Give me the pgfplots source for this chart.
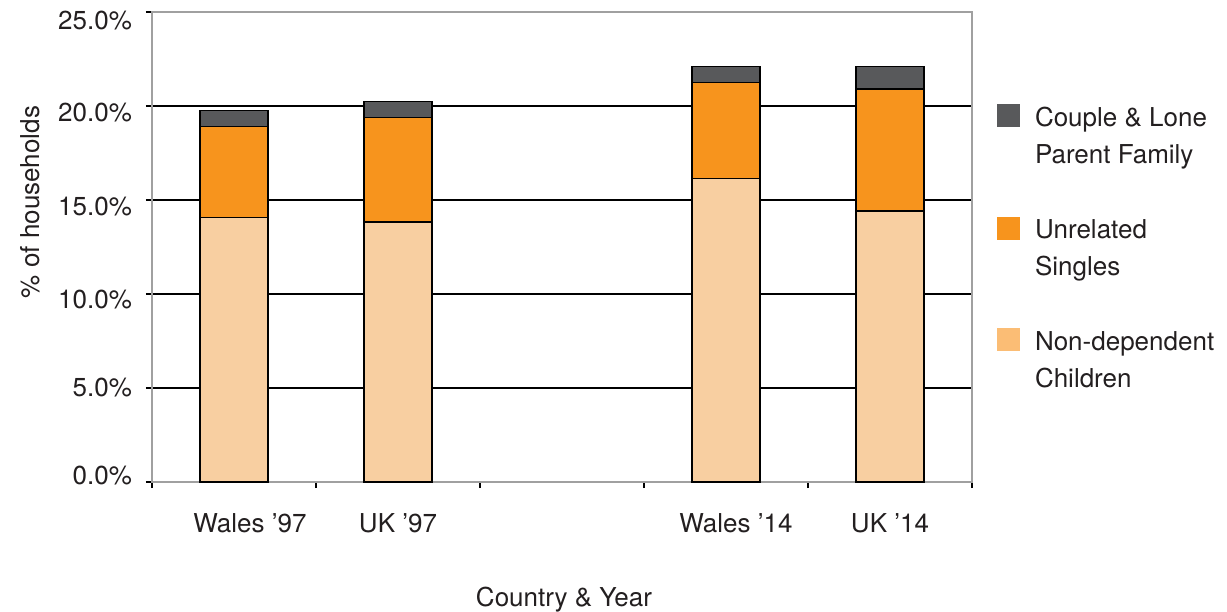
\documentclass[border=0pt]{standalone}
\usepackage{fontspec}
\setmainfont{TeX Gyre Heros}
\usepackage{pgfplots}
\usepackage{pgfplotstable}
\pgfplotsset{compat=1.18}
\definecolor{cdark}{HTML}{58595B}
\definecolor{corange}{HTML}{F7941D}
\definecolor{clight}{HTML}{F8CFA1}
\definecolor{clightleg}{HTML}{FBBD75}
\definecolor{axgray}{HTML}{A0A0A0}
\definecolor{txt}{HTML}{231F20}
\pgfplotstableread{
x nd us cl
0 14.06 4.86 0.85
1 13.83 5.57 0.83
3 16.15 5.11 0.83
4 14.41 6.49 1.19
}\datatable
\newcommand{\rl}[2]{\raisebox{#1}[\height][\depth]{#2}}
\begin{document}
\fontsize{13}{18.5}\selectfont
\begin{tikzpicture}
\useasboundingbox (-76pt,-64.5pt) rectangle (537.5pt,241pt);
\begin{axis}[
  scale only axis, width=410pt, height=235pt,
  xmin=-0.5, xmax=4.5, ymin=0, ymax=25,
  ybar stacked, bar width=34pt,
  axis line style={draw=axgray, line width=1pt},
  xtick={0,1,3,4},
  xticklabels={\hspace{16pt}Wales '97, UK '97\hspace{3pt}, \hspace{10pt}Wales '14, UK '14\hspace{2.5pt}},
  minor xtick={-0.5,0.5,1.5,2.5,3.5,4.5},
  major x tick style={draw=none},
  minor x tick style={draw=black, line width=0.8pt},
  y tick style={draw=black, line width=0.8pt},
  tick align=outside, major tick length=3pt, minor tick length=3pt,
  xtick pos=bottom, ytick pos=left,
  ytick={0,5,10,15,20,25},
  yticklabels={\rl{3pt}{0.0\%}, \rl{0pt}{5.0\%}, \rl{-3pt}{10.0\%}, \rl{-3.5pt}{15.0\%}, \rl{-3.5pt}{20.0\%}, \rl{-4.5pt}{25.0\%}},
  ymajorgrids, grid style={black, line width=0.7pt},
  ticklabel style={font=\fontsize{13}{15}\selectfont, text=txt},
  xticklabel style={yshift=-8pt},
  yticklabel style={xshift=-2.5pt},
  ylabel={\% of households}, xlabel={Country \& Year},
  label style={font=\fontsize{13}{15}\selectfont, text=txt},
  every axis y label/.append style={at={(-61pt,140pt)}, anchor=center},
  every axis x label/.append style={at={(206pt,-59pt)}, anchor=center},
  legend style={at={(1.0227,0.8128)}, anchor=north west, draw=none, fill=none,
    font=\fontsize{13}{18.5}\selectfont, text=txt,
    nodes={align=left, inner sep=0pt},
    row sep=24.5pt, column sep=7.5pt},
  legend cell align=left,
  legend image code/.code={\fill[#1] (0pt,5pt) rectangle (11.5pt,16.5pt);},
  every axis plot/.append style={draw=black, line width=0.6pt},
]
\addlegendimage{fill=cdark, draw=none}
\addlegendentry{Couple \& Lone\\Parent Family}
\addlegendimage{fill=corange, draw=none}
\addlegendentry{Unrelated\\Singles}
\addlegendimage{fill=clightleg, draw=none}
\addlegendentry{Non-dependent\\Children}
\addplot[fill=clight, draw=black, forget plot] table[x=x, y=nd] {\datatable};
\addplot[fill=corange, draw=black, forget plot] table[x=x, y=us] {\datatable};
\addplot[fill=cdark, draw=black, forget plot] table[x=x, y=cl] {\datatable};
\end{axis}
\end{tikzpicture}
\end{document}
